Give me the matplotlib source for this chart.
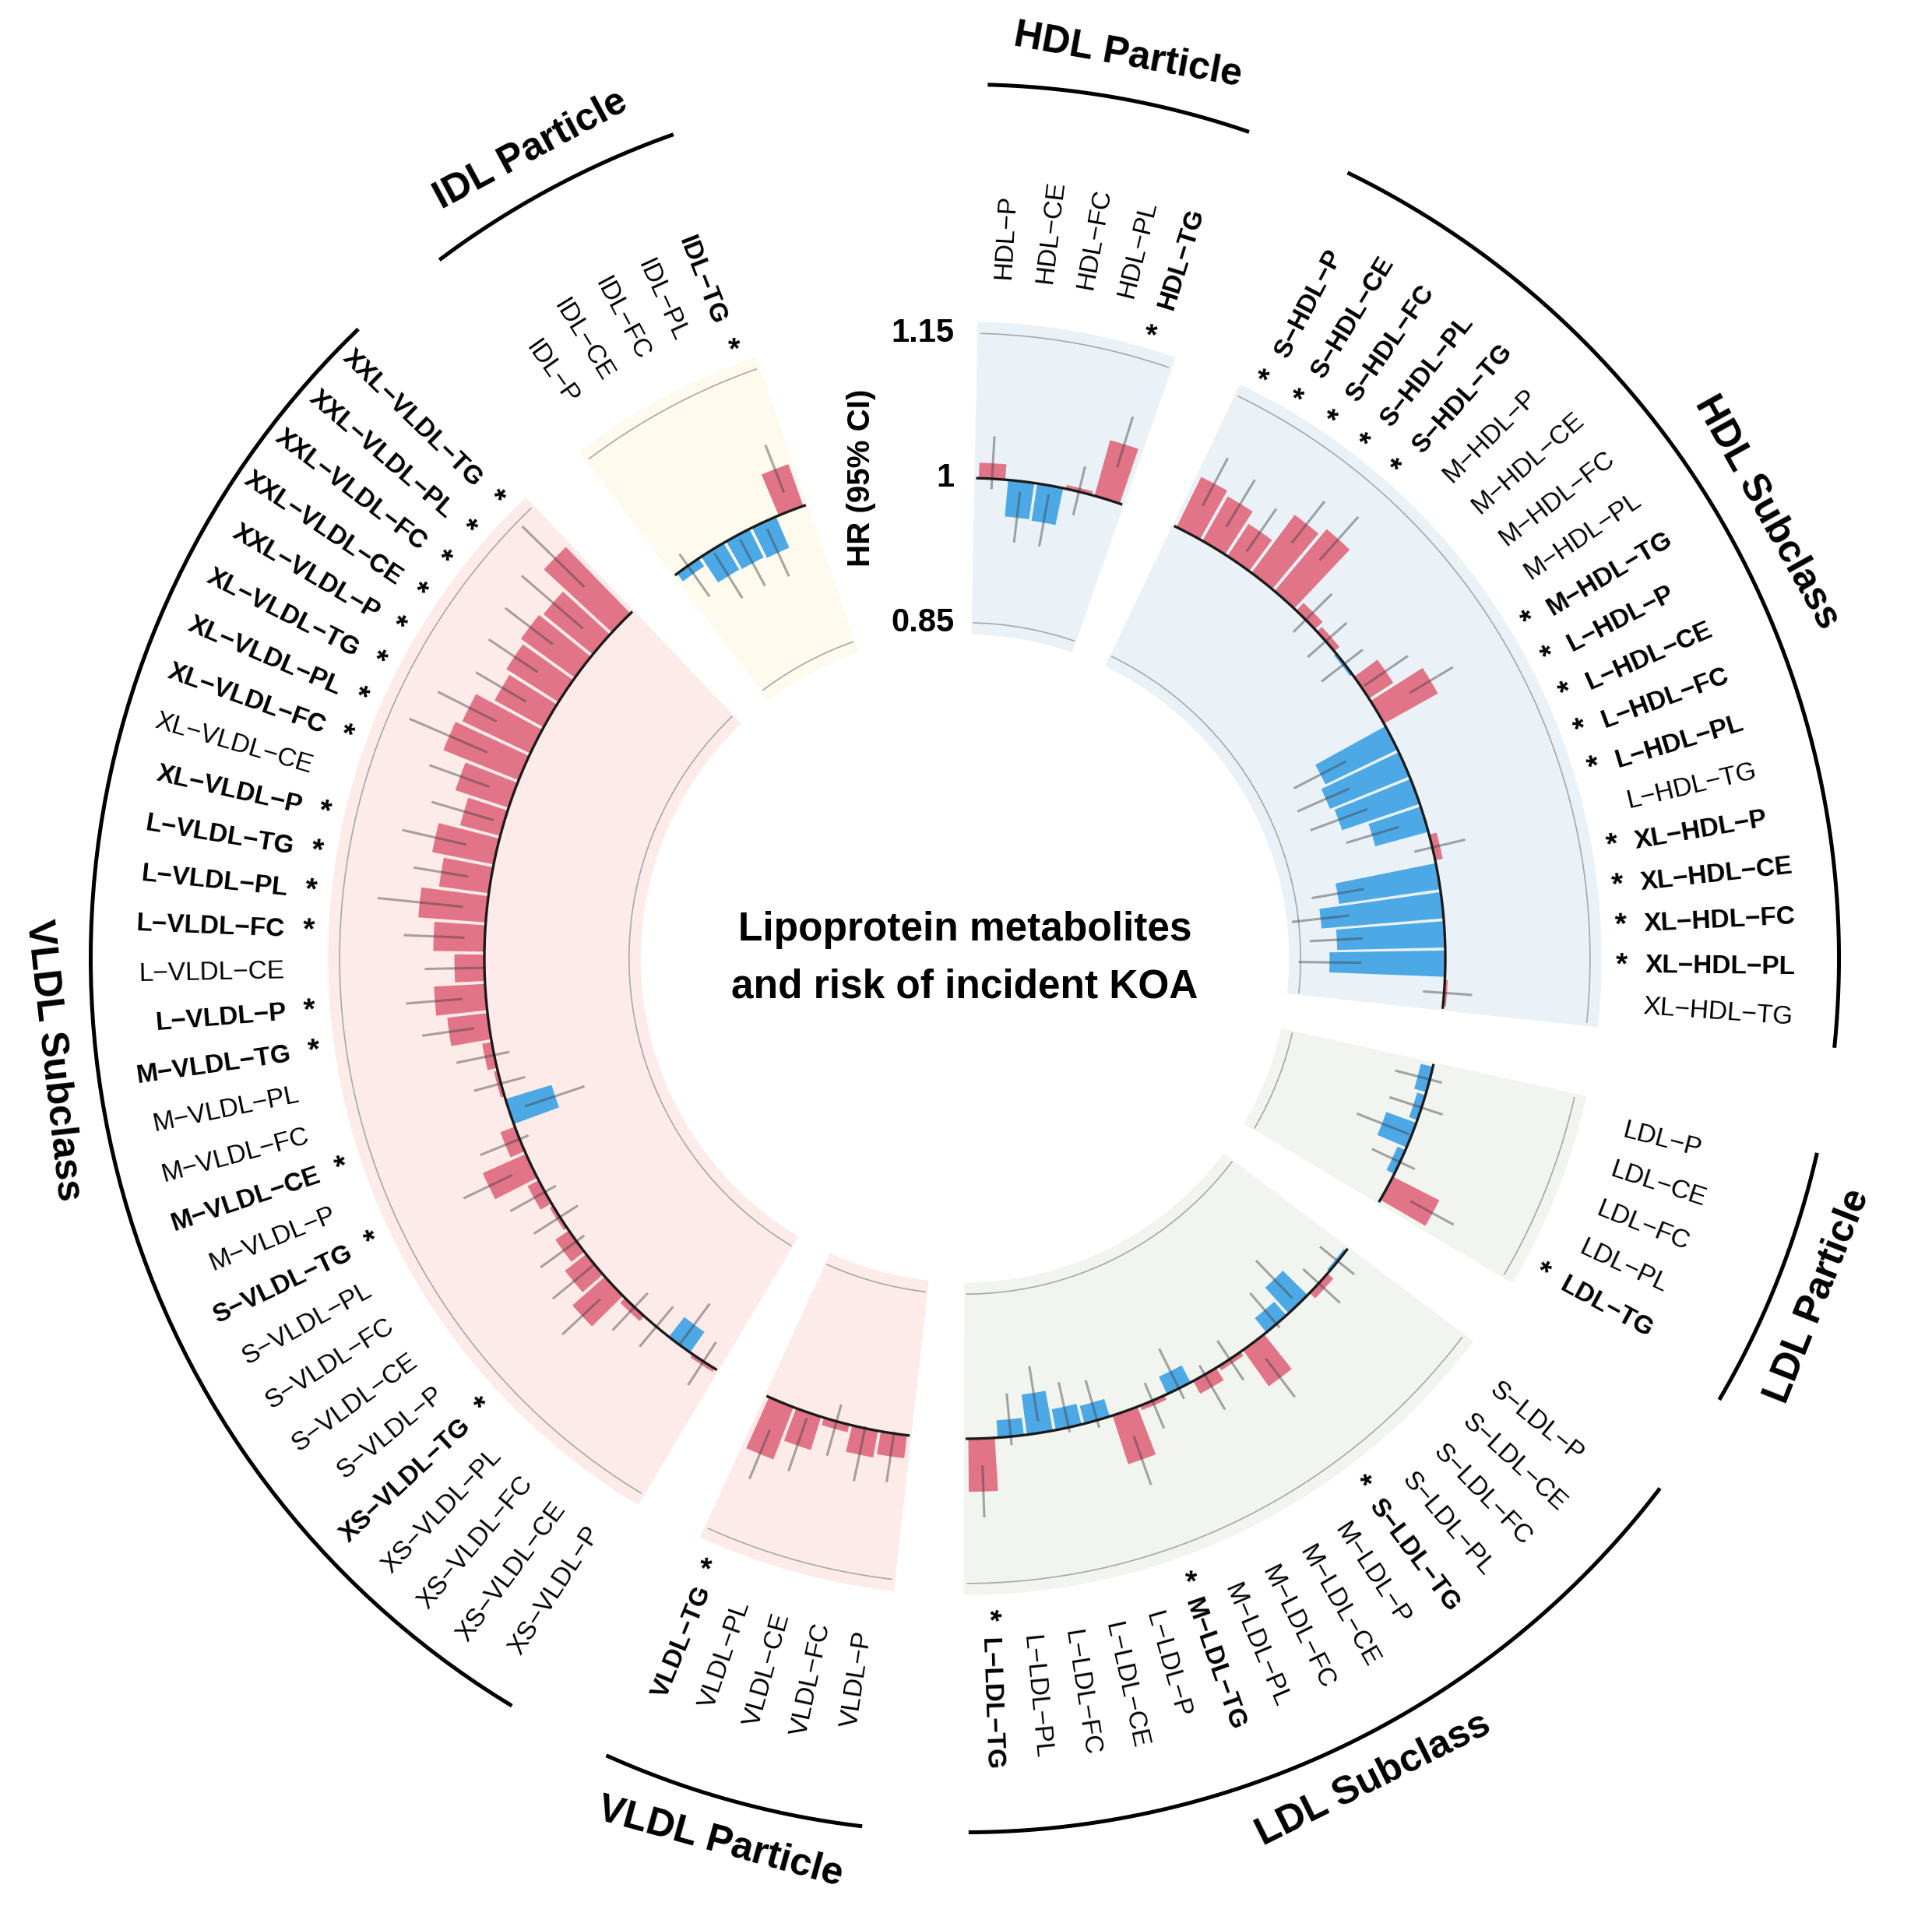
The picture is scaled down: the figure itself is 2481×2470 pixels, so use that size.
"""
Circular bar chart: lipoprotein metabolites and risk of incident KOA.
"""

import numpy as np
import matplotlib
matplotlib.use("Agg")
import matplotlib.pyplot as plt
from matplotlib.transforms import offset_copy

plt.rcParams["font.family"] = ["Liberation Sans", "DejaVu Sans"]

# ---- data (clockwise order inside each group) ----
group_names = ["HDL Particle", "HDL Subclass", "LDL Particle", "LDL Subclass",
               "VLDL Particle", "VLDL Subclass", "IDL Particle"]

hdl_p_names = ["HDL-P", "HDL-CE", "HDL-FC", "HDL-PL", "HDL-TG"]
hdl_p_hr = [1.016, 0.962, 0.961, 1.004, 1.060]
hdl_p_lo = [0.989, 0.936, 0.936, 0.975, 1.035]
hdl_p_hi = [1.044, 0.989, 0.991, 1.027, 1.090]
hdl_p_sig = [0, 0, 0, 0, 1]

hdl_s_names = ["S-HDL-P", "S-HDL-CE", "S-HDL-FC", "S-HDL-PL", "S-HDL-TG",
               "M-HDL-P", "M-HDL-CE", "M-HDL-FC", "M-HDL-PL", "M-HDL-TG",
               "L-HDL-P", "L-HDL-CE", "L-HDL-FC", "L-HDL-PL", "L-HDL-TG",
               "XL-HDL-P", "XL-HDL-CE", "XL-HDL-FC", "XL-HDL-PL", "XL-HDL-TG"]
hdl_s_hr = [1.058, 1.053, 1.040, 1.075, 1.084,
            1.011, 1.007, 0.997, 1.030, 1.064,
            0.917, 0.911, 0.915, 0.943, 1.008,
            0.894, 0.873, 0.888, 0.880, 1.003]
hdl_s_lo = [1.032, 1.025, 1.015, 1.050, 1.055,
            0.982, 0.975, 0.970, 1.003, 1.039,
            0.886, 0.879, 0.884, 0.915, 0.981,
            0.867, 0.843, 0.860, 0.848, 0.978]
hdl_s_hi = [1.088, 1.082, 1.069, 1.105, 1.115,
            1.038, 1.029, 1.024, 1.058, 1.091,
            0.947, 0.938, 0.947, 0.972, 1.035,
            0.922, 0.903, 0.915, 0.913, 1.029]
hdl_s_sig = [1, 1, 1, 1, 1, 0, 0, 0, 0, 1, 1, 1, 1, 1, 0, 1, 1, 1, 1, 0]

ldl_p_names = ["LDL-P", "LDL-CE", "LDL-FC", "LDL-PL", "LDL-TG"]
ldl_p_hr = [0.987, 0.991, 0.967, 0.991, 1.054]
ldl_p_lo = [0.963, 0.965, 0.939, 0.968, 1.028]
ldl_p_hi = [1.013, 1.023, 0.997, 1.017, 1.079]
ldl_p_sig = [0, 0, 0, 0, 1]

ldl_s_names = ["S-LDL-P", "S-LDL-CE", "S-LDL-FC", "S-LDL-PL", "S-LDL-TG",
               "M-LDL-P", "M-LDL-CE", "M-LDL-FC", "M-LDL-PL", "M-LDL-TG",
               "L-LDL-P", "L-LDL-CE", "L-LDL-FC", "L-LDL-PL", "L-LDL-TG"]
ldl_s_hr = [0.997, 1.008, 0.964, 0.981, 1.046,
            1.005, 1.015, 0.980, 1.005, 1.053,
            0.981, 0.978, 0.958, 0.982, 1.055]
ldl_s_lo = [0.976, 0.978, 0.937, 0.958, 1.021,
            0.977, 0.989, 0.954, 0.980, 1.027,
            0.957, 0.952, 0.930, 0.955, 1.028]
ldl_s_hi = [1.022, 1.030, 0.991, 1.005, 1.071,
            1.026, 1.042, 1.012, 1.031, 1.081,
            1.008, 1.005, 0.988, 1.009, 1.082]
ldl_s_sig = [0, 0, 0, 0, 1, 0, 0, 0, 0, 1, 0, 0, 0, 0, 1]

vldl_p_names = ["VLDL-P", "VLDL-FC", "VLDL-CE", "VLDL-PL", "VLDL-TG"]
vldl_p_hr = [1.024, 1.028, 1.008, 1.036, 1.058]
vldl_p_lo = [0.998, 0.998, 0.982, 1.006, 1.031]
vldl_p_hi = [1.051, 1.056, 1.037, 1.064, 1.086]
vldl_p_sig = [0, 0, 0, 0, 1]

vldl_s_names = ["XS-VLDL-P", "XS-VLDL-CE", "XS-VLDL-FC", "XS-VLDL-PL", "XS-VLDL-TG",
                "S-VLDL-P", "S-VLDL-CE", "S-VLDL-FC", "S-VLDL-PL", "S-VLDL-TG",
                "M-VLDL-P", "M-VLDL-CE", "M-VLDL-FC", "M-VLDL-PL", "M-VLDL-TG",
                "L-VLDL-P", "L-VLDL-CE", "L-VLDL-FC", "L-VLDL-PL", "L-VLDL-TG",
                "XL-VLDL-P", "XL-VLDL-CE", "XL-VLDL-FC", "XL-VLDL-PL", "XL-VLDL-TG",
                "XXL-VLDL-P", "XXL-VLDL-CE", "XXL-VLDL-FC", "XXL-VLDL-PL", "XXL-VLDL-TG"]
vldl_s_hr = [1.004, 0.974, 1.000, 1.007, 1.045,
             1.028, 1.017, 1.004, 1.013, 1.049,
             1.016, 0.950, 1.004, 1.010, 1.042,
             1.053, 1.031, 1.053, 1.070, 1.052,
             1.065, 1.043, 1.058, 1.084, 1.078,
             1.058, 1.064, 1.069, 1.066, 1.096]
vldl_s_lo = [0.976, 0.947, 0.973, 0.980, 1.019,
             0.999, 0.990, 0.978, 0.987, 1.022,
             0.990, 0.918, 0.974, 0.984, 1.016,
             1.024, 1.000, 1.021, 1.025, 1.024,
             1.032, 1.011, 1.026, 1.041, 1.046,
             1.029, 1.035, 1.039, 1.025, 1.053]
vldl_s_hi = [1.029, 1.001, 1.027, 1.033, 1.073,
             1.056, 1.046, 1.032, 1.041, 1.078,
             1.044, 0.983, 1.029, 1.040, 1.070,
             1.083, 1.062, 1.084, 1.114, 1.081,
             1.100, 1.078, 1.092, 1.129, 1.114,
             1.089, 1.096, 1.101, 1.109, 1.143]
vldl_s_sig = [0, 0, 0, 0, 1, 0, 0, 0, 0, 1, 0, 1, 0, 0, 1,
              1, 0, 1, 1, 1, 1, 0, 1, 1, 1, 1, 1, 1, 1, 1]

idl_names = ["IDL-P", "IDL-CE", "IDL-FC", "IDL-PL", "IDL-TG"]
idl_hr = [0.990, 0.968, 0.967, 0.965, 1.046]
idl_lo = [0.961, 0.941, 0.940, 0.938, 1.020]
idl_hi = [1.015, 0.996, 0.995, 0.992, 1.073]
idl_sig = [0, 0, 0, 0, 1]

groups = [
    (hdl_p_names, hdl_p_hr, hdl_p_lo, hdl_p_hi, hdl_p_sig, "#EAF2F8"),
    (hdl_s_names, hdl_s_hr, hdl_s_lo, hdl_s_hi, hdl_s_sig, "#EAF2F8"),
    (ldl_p_names, ldl_p_hr, ldl_p_lo, ldl_p_hi, ldl_p_sig, "#F2F5EF"),
    (ldl_s_names, ldl_s_hr, ldl_s_lo, ldl_s_hi, ldl_s_sig, "#F2F5EF"),
    (vldl_p_names, vldl_p_hr, vldl_p_lo, vldl_p_hi, vldl_p_sig, "#FDEBEA"),
    (vldl_s_names, vldl_s_hr, vldl_s_lo, vldl_s_hi, vldl_s_sig, "#FDEBEA"),
    (idl_names, idl_hr, idl_lo, idl_hi, idl_sig, "#FEFAEE"),
]

RED = "#E27487"
BLUE = "#4DA9E6"

# ---- layout ----
GAP = 2          # empty slots between groups
END_GAP = 6      # empty slots at the top (axis labels)
n_slots = sum(len(g[0]) for g in groups) + GAP * (len(groups) - 1) + END_GAP
SLOT = 2 * np.pi / n_slots
OFFSET = np.deg2rad(1.5)

R0 = 0.502        # radius value at the centre
RMAX = 1.50
PX_PER_UNIT = 1239.0

W, H = 2481, 2470
DPI = 200
fig = plt.figure(figsize=(W / DPI, H / DPI), dpi=DPI)
cx, cy = 1239, 1231
rad_px = (RMAX - R0) * PX_PER_UNIT
ax = fig.add_axes([(cx - rad_px) / W, (H - cy - rad_px) / H, 2 * rad_px / W, 2 * rad_px / H],
                  projection="polar")
ax.set_theta_zero_location("N")
ax.set_theta_direction(-1)
ax.set_ylim(R0, RMAX)
ax.axis("off")

R_STAR = 1.183
R_TEXT = 1.207
R_ARC = 1.408
R_GROUP = 1.453

slot = 0
for gi, (names, hr, lo, hi, sig, bg) in enumerate(groups):
    n = len(names)
    t0 = OFFSET + slot * SLOT
    t1 = OFFSET + (slot + n) * SLOT
    tm = (t0 + t1) / 2

    # panel background
    ax.bar(tm, 1.162 - 0.838, bottom=0.838, width=(n + 0.2) * SLOT,
           color=bg, edgecolor="none", zorder=0)
    arc = np.linspace(t0, t1, 80)
    for gv in (0.85, 1.15):
        ax.plot(arc, [gv] * len(arc), color="#A8A8A8", lw=0.6, zorder=1)

    theta = OFFSET + (slot + np.arange(n) + 0.5) * SLOT
    hr = np.array(hr)
    colors = [RED if v >= 1 else BLUE for v in hr]
    ax.bar(theta, hr - 1, bottom=1, width=0.9 * SLOT, color=colors,
           edgecolor="none", zorder=2)
    for t, a, b in zip(theta, lo, hi):
        ax.plot([t, t], [a, b], color="#404040", alpha=0.45, lw=1.1, zorder=3,
                solid_capstyle="butt")
    ax.plot(arc, [1.0] * len(arc), color="#1A1A1A", lw=1.2, zorder=4)

    # metabolite labels, star on the inner side
    for t, name, s in zip(theta, names, sig):
        deg = np.rad2deg(t) % 360
        label = name.replace("-", "\u2212")
        if deg < 180:
            rot, ha = 90 - deg, "left"
        else:
            rot, ha = 270 - deg, "right"
        ax.text(t, R_TEXT, label, rotation=rot, rotation_mode="anchor",
                ha=ha, va="center", fontsize=12,
                fontweight="bold" if s else "normal")
        if s:
            ax.text(t, R_STAR, "*", rotation=rot, rotation_mode="anchor",
                    ha="center", va="center", fontsize=14, fontweight="bold")

    # group arc and title
    ax.plot(arc, [R_ARC] * len(arc), color="black", lw=1.8, solid_capstyle="butt")
    gdeg = np.rad2deg(tm) % 360
    grot = -gdeg
    if 90 < gdeg < 270:
        grot += 180
    ax.text(tm, R_GROUP, group_names[gi], rotation=grot, rotation_mode="anchor",
            ha="center", va="center", fontsize=18, fontweight="bold")

    slot += n + GAP

# radial axis labels
tick_tr = offset_copy(ax.transData, fig=fig, x=-5, y=0, units="points")
for v, lab in zip([0.85, 1.0, 1.15], ["0.85", "1", "1.15"]):
    ax.text(0, v, lab, transform=tick_tr, ha="right", va="center",
            fontsize=15, fontweight="bold")
hr_tr = offset_copy(ax.transData, fig=fig, x=-48, y=0, units="points")
ax.text(0, 1.0, "HR (95% CI)", transform=hr_tr, rotation=90, ha="center",
        va="center", fontsize=14.5, fontweight="bold")

ax.text(0, R0, "Lipoprotein metabolites\nand risk of incident KOA", ha="center",
        va="center", fontsize=18.5, fontweight="bold", linespacing=1.65)

fig.savefig("out.png", dpi=DPI)
